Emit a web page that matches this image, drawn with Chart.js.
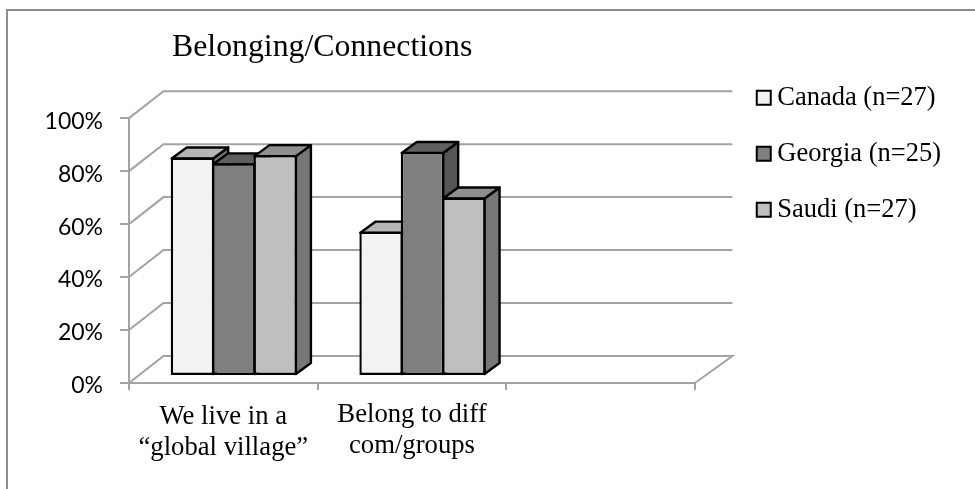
<!DOCTYPE html>
<html>
<head>
<meta charset="utf-8">
<title>Belonging/Connections</title>
<script src="https://cdn.jsdelivr.net/npm/chart.js@4/dist/chart.umd.min.js"></script>
<style>
    html, body { margin: 0; padding: 0; background: #fff; }
    #wrap { position: relative; width: 975px; height: 489px; overflow: hidden; }
    #frame { position: absolute; left: 6px; top: 9px; width: 1000px; height: 600px; border: 2px solid #8e8e8e; box-sizing: border-box; }
    canvas { position: absolute; left: 0; top: 0; }
</style>
</head>
<body>
<div id="wrap">
    <div id="frame"></div>
    <canvas id="chart" width="975" height="489"></canvas>
</div>
<script>
var categories = [['We live in a', '\u201Cglobal village\u201D'], ['Belong to diff', 'com/groups'], ''];
var canada = [82.5, 54.5, null];
var georgia = [80.3, 84.6, null];
var saudi = [83.4, 67.4, null];
var seriesNames = ['Canada (n=27)', 'Georgia (n=25)', 'Saudi (n=27)'];
var frontColors = ['#f2f2f2', '#7f7f7f', '#bfbfbf'];
var topColors = ['#b6b6b6', '#5f5f5f', '#8f8f8f'];
var sideColors = ['#797979', '#555555', '#777777'];
var yTicks = [0, 20, 40, 60, 80, 100];

var serif = '"Liberation Serif", "Times New Roman", serif';
var gridColor = '#a3a3a3';

// offset of the back wall from the front of the floor
var wall = { left: 34.5, right: 37.5, y: -27 };
// where the bars stand on the floor, and how deep they are
var stand = { x: 10.5, y: -7 };
var depth = { x: 15, y: -11 };
var edge = 2.4;

function poly(ctx, pts, fill) {
    ctx.beginPath();
    ctx.moveTo(pts[0][0], pts[0][1]);
    for (var i = 1; i < pts.length; i++) {
        ctx.lineTo(pts[i][0], pts[i][1]);
    }
    ctx.closePath();
    ctx.fillStyle = fill;
    ctx.fill();
    ctx.stroke();
}

var box3d = {
    id: 'box3d',
    afterLayout: function (chart) {
        // title and legend sit at fixed spots beside the plot
        chart.titleBlock.left = 172;
        chart.titleBlock.right = 700;
        var lg = chart.legend;
        var w = lg.width, h = lg.height;
        lg.left = 734;
        lg.right = lg.left + w;
        lg.top = 55;
        lg.bottom = lg.top + h;
    },
    beforeDraw: function (chart) {
        // nudge the axis text a little below its tick
        chart.scales.y.getLabelItems().forEach(function (item) {
            item.options.translation[1] += 3;
        });
        chart.scales.x.getLabelItems().forEach(function (item, i) {
            item.options.translation[1] += i === 0 ? 1 : -1;
        });
    },
    beforeDatasetsDraw: function (chart) {
        var ctx = chart.ctx;
        var area = chart.chartArea;
        var y = chart.scales.y;

        // back wall lines and the diagonals running back from the axis
        ctx.save();
        ctx.strokeStyle = gridColor;
        ctx.lineWidth = 2;
        yTicks.forEach(function (t) {
            var py = y.getPixelForValue(t);
            ctx.beginPath();
            ctx.moveTo(area.left, py);
            ctx.lineTo(area.left + wall.left, py + wall.y);
            ctx.lineTo(area.right + wall.right, py + wall.y);
            if (t === 0) {
                ctx.lineTo(area.right, py);
            }
            ctx.stroke();
        });
        ctx.restore();

        // bars go left to right so each covers the side of the one before
        ctx.save();
        ctx.translate(stand.x, stand.y);
        chart.data.datasets.forEach(function (ds, i) {
            var meta = chart.getDatasetMeta(i);
            ctx.strokeStyle = '#000';
            ctx.lineWidth = edge;
            ctx.lineJoin = 'round';
            meta.data.forEach(function (bar, j) {
                if (ds.data[j] === null) { return; }
                var p = bar.getProps(['x', 'y', 'base', 'width']);
                var l = p.x - p.width / 2 + 1, r = p.x + p.width / 2 - 1;
                var t = p.y + 1, b = p.base - 1;
                poly(ctx, [[r, t], [r + depth.x, t + depth.y], [r + depth.x, b + depth.y], [r, b]], sideColors[i]);
                poly(ctx, [[l, t], [l + depth.x, t + depth.y], [r + depth.x, t + depth.y], [r, t]], topColors[i]);
            });
            meta.controller.draw();
        });
        ctx.restore();
        return false;
    }
};

new Chart(document.getElementById('chart'), {
    type: 'bar',
    data: {
        labels: categories,
        datasets: [
            { label: seriesNames[0], data: canada, backgroundColor: frontColors[0] },
            { label: seriesNames[1], data: georgia, backgroundColor: frontColors[1] },
            { label: seriesNames[2], data: saudi, backgroundColor: frontColors[2] }
        ]
    },
    options: {
        responsive: false,
        animation: false,
        layout: { padding: { left: 0, right: 63, top: 0, bottom: 0 } },
        datasets: {
            bar: {
                categoryPercentage: 0.658,
                barPercentage: 1.05,
                borderColor: '#000',
                borderWidth: edge,
                borderSkipped: false
            }
        },
        scales: {
            x: {
                grid: { drawOnChartArea: false, color: gridColor, lineWidth: 2, tickLength: 7 },
                border: { color: gridColor, width: 2 },
                ticks: {
                    color: '#000',
                    maxRotation: 0,
                    autoSkip: false,
                    padding: 11,
                    font: { family: serif, size: 26.7, lineHeight: 1.15 }
                },
                afterFit: function (s) { s.height = 106; }
            },
            y: {
                min: 0,
                max: 100,
                grid: { drawOnChartArea: false, color: gridColor, lineWidth: 2, tickLength: 9 },
                border: { color: gridColor, width: 2 },
                ticks: {
                    stepSize: 20,
                    color: '#000',
                    padding: 17,
                    font: { family: 'Lato, "Open Sans", sans-serif', size: 23 },
                    callback: function (v) { return v + '%'; }
                },
                afterFit: function (s) { s.width = 129; }
            }
        },
        plugins: {
            title: {
                display: true,
                text: 'Belonging/Connections',
                align: 'start',
                color: '#000',
                font: { family: serif, size: 31.8, weight: 'normal', lineHeight: 1.2 },
                padding: { top: 29, bottom: 51 }
            },
            legend: {
                position: 'right',
                align: 'start',
                labels: {
                    usePointStyle: true,
                    pointStyle: 'rect',
                    boxWidth: 0.5,
                    boxHeight: 14,
                    padding: 29.5,
                    color: '#000',
                    font: { family: serif, size: 26.5 },
                    generateLabels: function (chart) {
                        return seriesNames.map(function (n, i) {
                            return {
                                text: n,
                                fillStyle: frontColors[i],
                                strokeStyle: '#000',
                                lineWidth: 2,
                                pointStyle: 'rect',
                                datasetIndex: i
                            };
                        });
                    }
                }
            },
            tooltip: { enabled: false }
        }
    },
    plugins: [box3d]
});
</script>
</body>
</html>
